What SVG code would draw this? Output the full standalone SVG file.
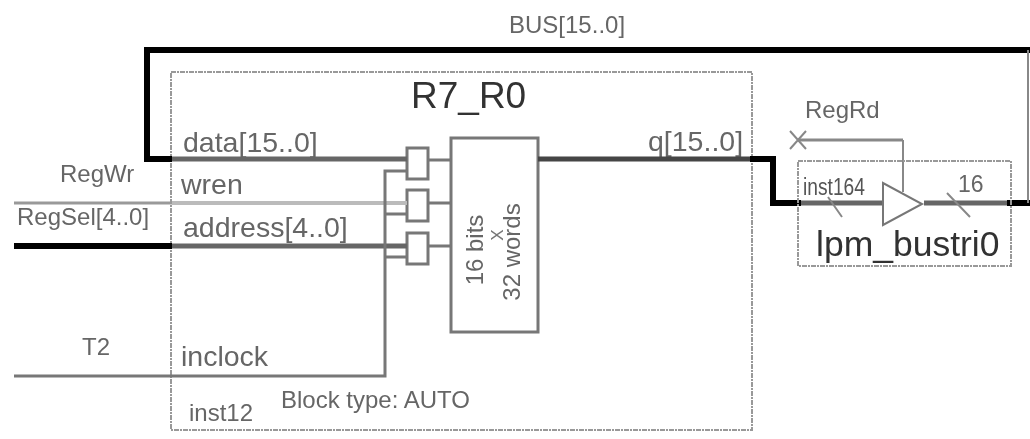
<svg xmlns="http://www.w3.org/2000/svg" width="1030" height="439" viewBox="0 0 1030 439">
<defs><filter id="soft" x="0" y="0" width="1030" height="439" filterUnits="userSpaceOnUse"><feGaussianBlur stdDeviation="0.7"/></filter></defs>
<style>
text{font-family:"Liberation Sans",Arial,sans-serif;fill:#555}
.p{font-size:28.5px;fill:#666}
.s{font-size:24px;fill:#666}
.d{fill:none;stroke:#999;stroke-width:2;stroke-dasharray:5 1 2 1}
.b{fill:#fff;stroke:#777;stroke-width:3}
.w{fill:none;stroke:#777;stroke-width:3}
.k{fill:none;stroke:#000;stroke-width:6}
.t{fill:none;stroke:#666;stroke-width:5}
</style>
<rect width="1030" height="439" fill="#fff"/>
<g filter="url(#soft)">
<g id="r7-r0">
<rect class="d" x="171" y="72" width="581" height="358"/>
<text x="411" y="108" style="font-size:37px;fill:#333">R7_R0</text>
<text class="p" x="183" y="152">data[15..0]</text>
<text class="p" x="181" y="194">wren</text>
<text class="p" x="183" y="237">address[4..0]</text>
<text class="p" x="181" y="366">inclock</text>
<text class="p" x="648" y="151">q[15..0]</text>
<text class="s" x="189" y="421">inst12</text>
<text class="s" x="281" y="408">Block type: AUTO</text>
<rect class="b" x="451" y="138" width="87" height="194"/>
<text transform="translate(483,250) rotate(-90)" text-anchor="middle" class="s">16 bits</text>
<text transform="translate(497,235) rotate(-90)" text-anchor="middle" dominant-baseline="central" style="font-size:17px;fill:#777">X</text>
<text transform="translate(520,252) rotate(-90)" text-anchor="middle" class="s">32 words</text>
<rect class="b" x="407" y="148" width="21" height="31"/>
<rect class="b" x="407" y="190" width="21" height="31"/>
<rect class="b" x="407" y="233" width="21" height="31"/>
</g>
<g id="connectors">
<path class="k" d="M1030 50H147V159H172"/>
<path class="t" d="M172 159H407"/>
<path fill="none" stroke="#999" stroke-width="3" d="M14 203H172"/>
<path fill="none" stroke="#bbb" stroke-width="4" d="M172 203H407"/>
<path class="k" d="M14 246H172"/>
<path class="t" d="M172 246H407"/>
<path class="w" d="M14 376H385V171H407M385 214H407M385 257H407"/>
<path class="w" d="M428 160H451M428 203H451M428 246H451"/>
<path fill="none" stroke="#444" stroke-width="5" d="M538 159H750"/>
<path class="k" d="M750 159H773V203H801"/>
<path class="t" d="M801 203H883M924 203H1007"/>
<path class="k" d="M1007 203H1030"/>
<path fill="none" stroke="#888" stroke-width="2" d="M1028 50V203"/>
<path fill="none" stroke="#888" stroke-width="3" d="M798 140H903"/>
<path fill="none" stroke="#888" stroke-width="2" d="M903 140V192M790 131L806 149M790 149L806 131M828 197L842 217M947 193L970 217"/>
</g>
<g id="lpm-bustri0">
<rect class="d" x="798" y="161" width="213" height="105"/>
<path fill="#fff" stroke="#777" stroke-width="2" d="M883 183V225L922 204Z"/>
<text x="803" y="195" textLength="62" lengthAdjust="spacingAndGlyphs" style="font-size:23px;fill:#555">inst164</text>
<text x="958" y="192" style="font-size:23px;fill:#666">16</text>
<text x="816" y="256" style="font-size:35.5px;fill:#333">lpm_bustri0</text>
</g>
<g id="labels">
<text class="s" x="509" y="33">BUS[15..0]</text>
<text class="s" x="60" y="182">RegWr</text>
<text class="s" x="17" y="225">RegSel[4..0]</text>
<text class="s" x="82" y="355">T2</text>
<text class="s" x="805" y="118">RegRd</text>
</g>
</g>
</svg>
